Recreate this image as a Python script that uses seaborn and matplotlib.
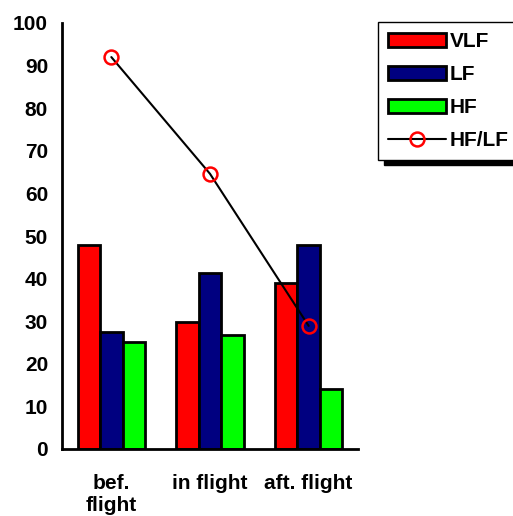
import matplotlib
matplotlib.use("Agg")
import matplotlib.pyplot as plt
from matplotlib.patches import Patch
from matplotlib.lines import Line2D
import seaborn as sns
import pandas as pd

categories = ["bef.\nflight", "in flight", "aft. flight"]
vlf = [48.0, 29.8, 39.0]
lf = [27.4, 41.4, 47.8]
hf = [25.1, 26.7, 14.0]
hf_lf = [92.0, 64.6, 28.9]
series_names = ["VLF", "LF", "HF"]
colors = {"VLF": "#ff0000", "LF": "#000080", "HF": "#00ff00"}

sns.set_style("white")
plt.rcParams['font.family'] = ['Liberation Sans', 'DejaVu Sans']
plt.rcParams['font.weight'] = 'bold'
plt.rcParams['text.color'] = 'black'
plt.rcParams['xtick.color'] = 'black'
plt.rcParams['ytick.color'] = 'black'

FS = 15

rows = []
for name, vals in zip(series_names, [vlf, lf, hf]):
    for c, v in zip(categories, vals):
        rows.append({"cat": c, "series": name, "value": v})
df = pd.DataFrame(rows)

fig = plt.figure(figsize=(5.13, 5.16), dpi=100)
ax = fig.add_axes([62/513, 1-449/516, (358-62)/513, (449-23)/516])

sns.barplot(data=df, x="cat", y="value", hue="series", order=categories,
            hue_order=series_names, palette=colors, width=0.68, ax=ax,
            edgecolor="black", linewidth=2, saturation=1, legend=False)

ax.plot(range(len(categories)), hf_lf, color="black", linewidth=1.5,
        marker="o", markersize=10, markerfacecolor="none",
        markeredgecolor="red", markeredgewidth=1.8, zorder=5)

ax.set_xlim(-0.5, 2.5)
ax.set_ylim(0, 100)
ax.set_yticks(range(0, 101, 10))
ax.set_yticklabels([str(v) for v in range(0, 101, 10)], fontsize=FS, fontweight='bold')
ax.set_xticks([-0.5, 0.5, 1.5, 2.5])
ax.set_xticklabels([])
ax.set_xticks([0, 1, 2], minor=True)
ax.set_xticklabels(categories, minor=True, fontsize=FS, fontweight='bold', linespacing=1.2)
ax.tick_params(axis='x', which='minor', length=0, pad=18)
ax.tick_params(axis='x', which='major', length=6, width=2, direction='out', color='black')
ax.tick_params(axis='y', length=6, width=2, direction='out', color='black', pad=4)
ax.set_xlabel("")
ax.set_ylabel("")
for s in ["top", "right"]:
    ax.spines[s].set_visible(False)
for s in ["left", "bottom"]:
    ax.spines[s].set_color("black")
    ax.spines[s].set_linewidth(2)

handles = [Patch(facecolor=colors[n], edgecolor="black", linewidth=2, label=n) for n in series_names]
handles.append(Line2D([0], [0], color="black", linewidth=1.5, marker="o", markersize=10,
                      markerfacecolor="none", markeredgecolor="red", markeredgewidth=1.8, label="HF/LF"))
leg = fig.legend(handles=handles, loc="upper left", bbox_to_anchor=(378/513, 1-22/516),
                 frameon=True, shadow={'color': 'black', 'alpha': 1, 'ox': 4, 'oy': -3.5}, fancybox=False,
                 prop={'weight': 'bold', 'size': FS}, handlelength=2.75, handleheight=0.65,
                 labelspacing=0.66, borderpad=0.5, handletextpad=0.2, borderaxespad=0)
leg.get_frame().set_edgecolor("black")
leg.get_frame().set_linewidth(1)

fig.savefig("out.png", dpi=100)
